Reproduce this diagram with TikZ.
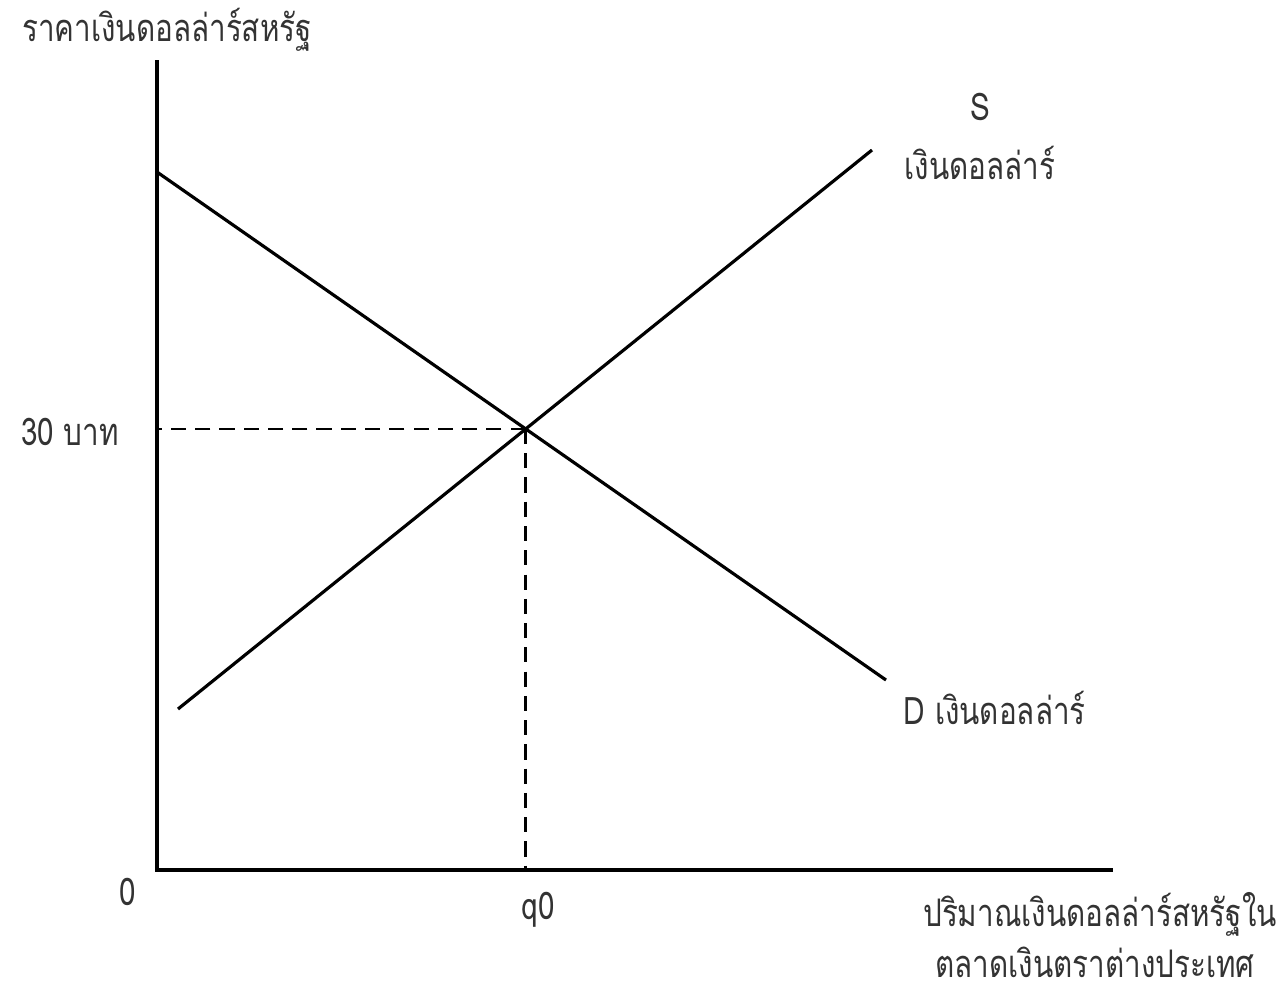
\documentclass[tikz,border=0pt]{standalone}
\usepackage{fontspec}
\newfontfamily\thaifont[Script=Thai,FakeStretch=0.78]{Loma}
\usetikzlibrary{positioning,calc,intersections}

\begin{document}
\begin{tikzpicture}[x=0.01cm,y=-0.01cm,
  axis/.style={line width=1.1pt},
  curve/.style={line width=0.9pt},
  guide/.style={line width=0.7pt,dash pattern=on 4.3pt off 2.6pt},
  lbl/.style={font=\thaifont\fontsize{10.8}{13}\selectfont,text=black!80,inner sep=0pt}]
  \useasboundingbox (0,0) rectangle (1280,993);
  % axes
  \coordinate (O) at (157,870);
  \coordinate (ytop) at (157,60);
  \coordinate (xend) at (1113,870);
  \draw[axis] (ytop) -- (O) -- (xend);
  % demand and supply
  \coordinate (d1) at (157,172);
  \coordinate (d2) at (886,680);
  \coordinate (s1) at (178,709);
  \coordinate (s2) at (872,150);
  \draw[curve,name path=dem] (d1) -- (d2);
  \draw[curve,name path=sup] (s1) -- (s2);
  \path[name intersections={of=dem and sup,by=E}];
  \draw[guide] (E) -- (E -| O);
  \draw[guide] (E) -- (E |- O);
  % labels
  \node[lbl] (ylab) at (167,30) {ราคาเงินดอลล่าร์สหรัฐ};
  \node[lbl] (sname) at (980,107) {S};
  \node[lbl] (slab) at (980,163) {เงินดอลล่าร์};
  \node[lbl,anchor=west] (dlab) at (903,708) {D เงินดอลล่าร์};
  \node[lbl] (price) at (70,432) {30 บาท};
  \node[lbl] (zero) at (128,892) {0};
  \node[lbl] (qzero) at (538,910) {q0};
  \node[lbl] (xlab1) at (1100,914) {ปริมาณเงินดอลล่าร์สหรัฐใน};
  \node[lbl] (xlab2) at (1095,962) {ตลาดเงินตราต่างประเทศ};
\end{tikzpicture}
\end{document}
